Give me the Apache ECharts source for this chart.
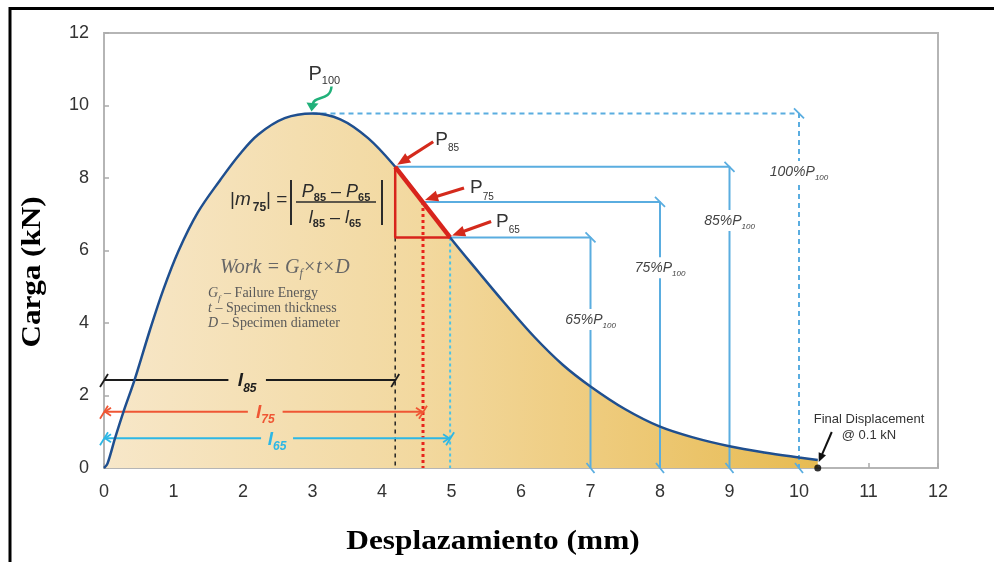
<!DOCTYPE html>
<html>
<head>
<meta charset="utf-8">
<script src="https://cdn.jsdelivr.net/npm/echarts@6/dist/echarts.min.js"></script>
<style>
  html, body { margin: 0; padding: 0; background: #fff; }
  #chart { width: 994px; height: 562px; }
</style>
</head>
<body>
<div id="chart"></div>
<script>
// Load–displacement curve of the specimen (displacement in mm, load in kN)
const displacement = [0, 0.05, 0.16, 0.28, 0.44, 0.66, 0.85, 1.07, 1.35, 1.67, 1.95, 2.22, 2.6, 3.0,
  3.4, 3.8, 4.19, 4.59, 4.98, 5.4, 5.75, 6.2, 6.6, 7.0, 7.5, 8.0, 8.5, 9.0, 9.5, 10.0, 10.27];
const load = [0, 0.12, 0.83, 1.55, 2.43, 3.8, 4.9, 5.98, 7.05, 7.94, 8.65, 9.2, 9.65, 9.78,
  9.62, 9.1, 8.31, 7.34, 6.36, 5.38, 4.58, 3.6, 2.85, 2.25, 1.62, 1.14, 0.83, 0.6, 0.43, 0.29, 0.22];

// Peak load P100
const peakDisp = 3.0;
const peakLoad = 9.78;

// Post-peak characteristic points P85, P75, P65
const levelNames = ['85', '75', '65'];
const levelDisp = [4.19, 4.59, 4.98];
const levelLoad = [8.31, 7.34, 6.36];

// Level brackets (85%, 75%, 65%, 100% of P100)
const bracketNames = ['85%', '75%', '65%', '100%'];
const bracketStartX = [4.19, 4.59, 4.98, 3.0];
const bracketLoad = [8.31, 7.34, 6.36, 9.78];
const bracketTurnX = [9, 8, 7, 10];
const bracketLabelLoad = [6.84, 5.54, 4.11, 8.19];

// Displacement spans l85, l75, l65
const spanNames = ['85', '75', '65'];
const spanEnd = [4.19, 4.59, 4.98];
const spanLoad = [2.43, 1.55, 0.82];
const spanLabelX = [2.06, 2.32, 2.49];
const spanGap = [0.27, 0.25, 0.23];
const spanColors = ['#1c1c1c', '#ef5634', '#2db7e5'];

// End of the test
const finalDisp = 10.27;
const finalLoad = 0;

const xTicks = [0, 12, 1];
const yTicks = [0, 12, 2];

const BLUE = '#5aade0';
const RED = '#d8241c';
const SANS = '"Liberation Sans", Arial, sans-serif';
const SERIF = '"Liberation Serif", "Times New Roman", serif';

function seg(points, style, z) {
  return { type: 'line', data: points, symbol: 'none', silent: true, animation: false,
    lineStyle: style, z: z || 3 };
}

const series = [];
// filled area under the curve
series.push({
  type: 'line', data: displacement.map((d, i) => [d, load[i]]), symbol: 'none', smooth: 0.35,
  lineStyle: { width: 0 }, z: 1, silent: true,
  areaStyle: {
    opacity: 1,
    color: new echarts.graphic.LinearGradient(0, 0, 1, 0, [
      { offset: 0, color: '#f7e7c9' }, { offset: 0.45, color: '#f2d89e' },
      { offset: 0.7, color: '#eecb7c' }, { offset: 1, color: '#e7bb52' }])
  }
});
// level brackets
bracketNames.forEach((n, i) => {
  const dashed = n === '100%';
  series.push(seg([[bracketStartX[i], bracketLoad[i]], [bracketTurnX[i], bracketLoad[i]], [bracketTurnX[i], 0]],
    { color: BLUE, width: 2, type: dashed ? [5, 4] : 'solid' }, 2));
});
// vertical guides below the characteristic points
series.push(seg([[levelDisp[0], levelLoad[2]], [levelDisp[0], 0]], { color: '#222', width: 1.5, type: [4, 4] }, 2));
series.push(seg([[levelDisp[1], levelLoad[1]], [levelDisp[1], 0]], { color: '#e8231b', width: 3, type: [3, 3] }, 2));
series.push(seg([[levelDisp[2], levelLoad[2]], [levelDisp[2], 0]], { color: '#4cc3e6', width: 2, type: [3, 3] }, 2));
// displacement spans, broken around their labels
spanNames.forEach((n, i) => {
  const st = { color: spanColors[i], width: 2 };
  series.push(seg([[0, spanLoad[i]], [spanLabelX[i] - spanGap[i], spanLoad[i]]], st, 4));
  series.push(seg([[spanLabelX[i] + spanGap[i], spanLoad[i]], [spanEnd[i], spanLoad[i]]], st, 4));
});
// the curve itself
series.push({
  type: 'line', data: displacement.map((d, i) => [d, load[i]]), symbol: 'none', smooth: 0.35,
  lineStyle: { color: '#1f4f8f', width: 2.5 }, z: 5, silent: true
});
// secant P85–P65 and its triangle
series.push(seg([[levelDisp[0], levelLoad[0]], [levelDisp[0], levelLoad[2]], [levelDisp[2], levelLoad[2]]],
  { color: RED, width: 2.5 }, 6));
series.push(seg([[levelDisp[0], levelLoad[0]], [levelDisp[2], levelLoad[2]]], { color: RED, width: 4.5 }, 6));
// final displacement point
series.push({ type: 'scatter', data: [[finalDisp, finalLoad]], symbolSize: 7, itemStyle: { color: '#000' }, z: 7, silent: true });

const option = {
  animation: false,
  grid: { left: 104, right: 56, top: 33, bottom: 94, show: true, borderColor: '#b5b5b5', borderWidth: 2,
    backgroundColor: 'transparent', outerBoundsMode: 'none' },
  xAxis: {
    type: 'value', min: xTicks[0], max: xTicks[1], interval: xTicks[2],
    axisLine: { show: false }, splitLine: { show: false },
    axisTick: { show: true, inside: true, length: 5, lineStyle: { color: '#aaa', width: 1.5 } },
    axisLabel: { fontSize: 18, color: '#333', margin: 15, fontFamily: SANS }
  },
  yAxis: {
    type: 'value', min: yTicks[0], max: yTicks[1], interval: yTicks[2],
    axisLine: { show: false }, splitLine: { show: false },
    axisTick: { show: true, inside: true, length: 5, lineStyle: { color: '#aaa', width: 1.5 } },
    axisLabel: { fontSize: 18, color: '#333', margin: 15, fontFamily: SANS }
  },
  series: series
};

const chart = echarts.init(document.getElementById('chart'), null, { renderer: 'canvas' });
chart.setOption(option);

const px = p => chart.convertToPixel({ gridIndex: 0 }, p);
const mctx = document.createElement('canvas').getContext('2d');
function fontOf(p) {
  return (p.italic ? 'italic ' : '') + (p.bold ? 'bold ' : '') + p.size + 'px ' + p.family;
}
// run of text parts placed on a common baseline (parts may be shifted down for subscripts)
function run(x, baseline, parts, defaults, align, z) {
  const items = parts.map(p => Object.assign({ dy: 0, gap: 0 }, defaults, p));
  const widths = items.map(it => { mctx.font = fontOf(it); return mctx.measureText(it.t).width + it.gap; });
  const total = widths.reduce((a, b) => a + b, 0);
  let cx = align === 'center' ? x - total / 2 : (align === 'right' ? x - total : x);
  const els = [];
  items.forEach((it, i) => {
    els.push({ type: 'text', x: cx, y: baseline + it.dy - 0.31 * it.size, z: z || 60, silent: true,
      style: { text: it.t, font: fontOf(it), fill: it.color, textAlign: 'left', textVerticalAlign: 'middle' } });
    cx += widths[i];
  });
  els.total = total;
  return els;
}
function line(x1, y1, x2, y2, color, w, z) {
  return { type: 'line', z: z || 55, silent: true, shape: { x1, y1, x2, y2 }, style: { stroke: color, lineWidth: w } };
}
function arrow(tail, tip, color, w, headLen, headW) {
  const dx = tip[0] - tail[0], dy = tip[1] - tail[1], L = Math.hypot(dx, dy);
  const ux = dx / L, uy = dy / L, nx = -uy, ny = ux;
  const b = [tip[0] - ux * headLen, tip[1] - uy * headLen];
  return [
    line(tail[0], tail[1], b[0] + ux * 2, b[1] + uy * 2, color, w, 58),
    { type: 'polygon', z: 58, silent: true, shape: { points: [tip, [b[0] + nx * headW / 2, b[1] + ny * headW / 2], [b[0] - nx * headW / 2, b[1] - ny * headW / 2]] },
      style: { fill: color } }
  ];
}

const G = [];
// outer frame
G.push({ type: 'rect', z: 90, silent: true, shape: { x: 10, y: 8.5, width: 1000, height: 600 }, style: { fill: null, stroke: '#000', lineWidth: 3 } });

// axis titles
G.push({ type: 'text', x: 493, y: 542, scaleX: 1.12, z: 60, silent: true, style: { text: 'Desplazamiento (mm)', font: 'bold 28px ' + SERIF, fill: '#000', textAlign: 'center', textVerticalAlign: 'middle' } });
G.push({ type: 'text', x: 33, y: 272, scaleX: 1.11, rotation: Math.PI / 2, z: 60, silent: true, style: { text: 'Carga (kN)', font: 'bold 28px ' + SERIF, fill: '#000', textAlign: 'center', textVerticalAlign: 'middle' } });

// bracket barbs and labels
bracketNames.forEach((n, i) => {
  const c = px([bracketTurnX[i], bracketLoad[i]]);
  const b = px([bracketTurnX[i], 0]);
  G.push(line(c[0] - 5, c[1] - 5, c[0] + 5, c[1] + 5, BLUE, 1.8));
  G.push(line(b[0] - 4, b[1] - 5, b[0] + 4, b[1] + 5, BLUE, 1.8));
  const lp = px([bracketTurnX[i], bracketLabelLoad[i]]);
  const els = run(lp[0], lp[1] + 5, [{ t: n + 'P' }, { t: '100', size: 8, dy: 4 }],
    { size: 14, italic: true, family: SANS, color: '#444' }, 'center', 61);
  G.push({ type: 'rect', z: 59, silent: true, shape: { x: lp[0] - els.total / 2 - 2, y: lp[1] - 10, width: els.total + 4, height: 21 }, style: { fill: '#fff' } });
  G.push(...els);
});

// P100 label and green pointer
const pk = px([peakDisp, peakLoad]);
G.push(...run(pk[0] - 4, pk[1] - 33, [{ t: 'P' }, { t: '100', size: 11, dy: 4 }], { size: 20, family: SANS, color: '#333' }, 'left'));
G.push({ type: 'bezierCurve', z: 58, silent: true, shape: { x1: pk[0] + 19, y1: pk[1] - 27, cpx1: pk[0] + 18, cpy1: pk[1] - 12, cpx2: pk[0] + 1, cpy2: pk[1] - 18, x2: pk[0], y2: pk[1] - 9 },
  style: { stroke: '#21b17a', lineWidth: 2.5, fill: null } });
G.push({ type: 'polygon', z: 58, silent: true, shape: { points: [[pk[0] - 6, pk[1] - 11], [pk[0] + 6, pk[1] - 10], [pk[0] - 1, pk[1] - 2]] }, style: { fill: '#21b17a' } });

// P85 / P75 / P65 labels with red pointers
const tailOff = [[36, -23], [39, -12], [39, -14]];
const labelOff = [[40, -21], [47, -8], [46, -10]];
levelNames.forEach((n, i) => {
  const p = px([levelDisp[i], levelLoad[i]]);
  const tip = [p[0] + 2, p[1] - 2];
  G.push(...arrow([tip[0] + tailOff[i][0], tip[1] + tailOff[i][1]], tip, '#d42a1c', 3.2, 13, 11));
  G.push(...run(p[0] + labelOff[i][0], p[1] + labelOff[i][1], [{ t: 'P' }, { t: n, size: 10, dy: 6 }], { size: 19, family: SANS, color: '#333' }, 'left'));
});

// span end barbs and labels
spanNames.forEach((n, i) => {
  const a = px([0, spanLoad[i]]);
  const e = px([spanEnd[i], spanLoad[i]]);
  const c = spanColors[i];
  G.push(line(a[0] - 4, a[1] + 7, a[0] + 4, a[1] - 6, c, 1.8));
  G.push(line(e[0] - 4, e[1] + 7, e[0] + 4, e[1] - 6, c, 1.8));
  if (i > 0) {
    G.push(line(a[0] + 7, a[1] - 4, a[0] + 1, a[1], c, 1.8));
    G.push(line(a[0] + 7, a[1] + 4, a[0] + 1, a[1], c, 1.8));
    G.push(line(e[0] - 7, e[1] - 4, e[0] - 1, e[1], c, 1.8));
    G.push(line(e[0] - 7, e[1] + 4, e[0] - 1, e[1], c, 1.8));
  }
  const lp = px([spanLabelX[i], spanLoad[i]]);
  G.push(...run(lp[0], lp[1] + 7, [{ t: 'l' }, { t: n, size: 12, dy: 5 }], { size: 19, bold: true, italic: true, family: SANS, color: c }, 'center'));
});

// slope formula |m75| = |(P85 − P65)/(l85 − l65)|
const fS = { size: 19, family: SANS, color: '#2b2b2b' };
G.push(...run(230, 206, [{ t: '|' }, { t: 'm', italic: true, gap: 2 }, { t: '75', size: 12, bold: true, dy: 5 }, { t: '| =' }], fS, 'left'));
G.push(line(291, 180, 291, 225, '#2b2b2b', 2));
G.push(line(382, 180, 382, 225, '#2b2b2b', 2));
G.push(...run(336, 198, [{ t: 'P', italic: true }, { t: '85', size: 11, bold: true, dy: 3 }, { t: ' – ' }, { t: 'P', italic: true }, { t: '65', size: 11, bold: true, dy: 3 }], { size: 18, family: SANS, color: '#2b2b2b' }, 'center'));
G.push(line(296, 202, 376, 202, '#2b2b2b', 1.5));
G.push(...run(335, 224, [{ t: 'l', italic: true }, { t: '85', size: 11, bold: true, dy: 3 }, { t: ' – ' }, { t: 'l', italic: true }, { t: '65', size: 11, bold: true, dy: 3 }], { size: 18, family: SANS, color: '#2b2b2b' }, 'center'));

// work definition
const wS = { size: 20, family: SERIF, italic: true, color: '#666' };
G.push(...run(220, 274, [{ t: 'Work = G' }, { t: 'f', size: 12, dy: 4 }, { t: '×t×D' }], wS, 'left'));
const dS = { size: 14, family: SERIF, color: '#5a5a5a' };
G.push(...run(208, 298, [{ t: 'G', italic: true }, { t: 'f', italic: true, size: 9, dy: 3 }, { t: ' – Failure Energy' }], dS, 'left'));
G.push(...run(208, 313, [{ t: 't', italic: true }, { t: ' – Specimen thickness' }], dS, 'left'));
G.push(...run(208, 328, [{ t: 'D', italic: true }, { t: ' – Specimen diameter' }], dS, 'left'));

// final displacement note
const fd = px([finalDisp, finalLoad]);
G.push(...arrow([fd[0] + 14, fd[1] - 36], [fd[0] + 1, fd[1] - 6], '#111', 2, 9, 8));
G.push(...run(869, 423, [{ t: 'Final Displacement' }], { size: 13, family: SANS, color: '#333' }, 'center'));
G.push(...run(869, 439, [{ t: '@ 0.1 kN' }], { size: 13, family: SANS, color: '#333' }, 'center'));

chart.setOption({ graphic: { elements: G } });
</script>
</body>
</html>
